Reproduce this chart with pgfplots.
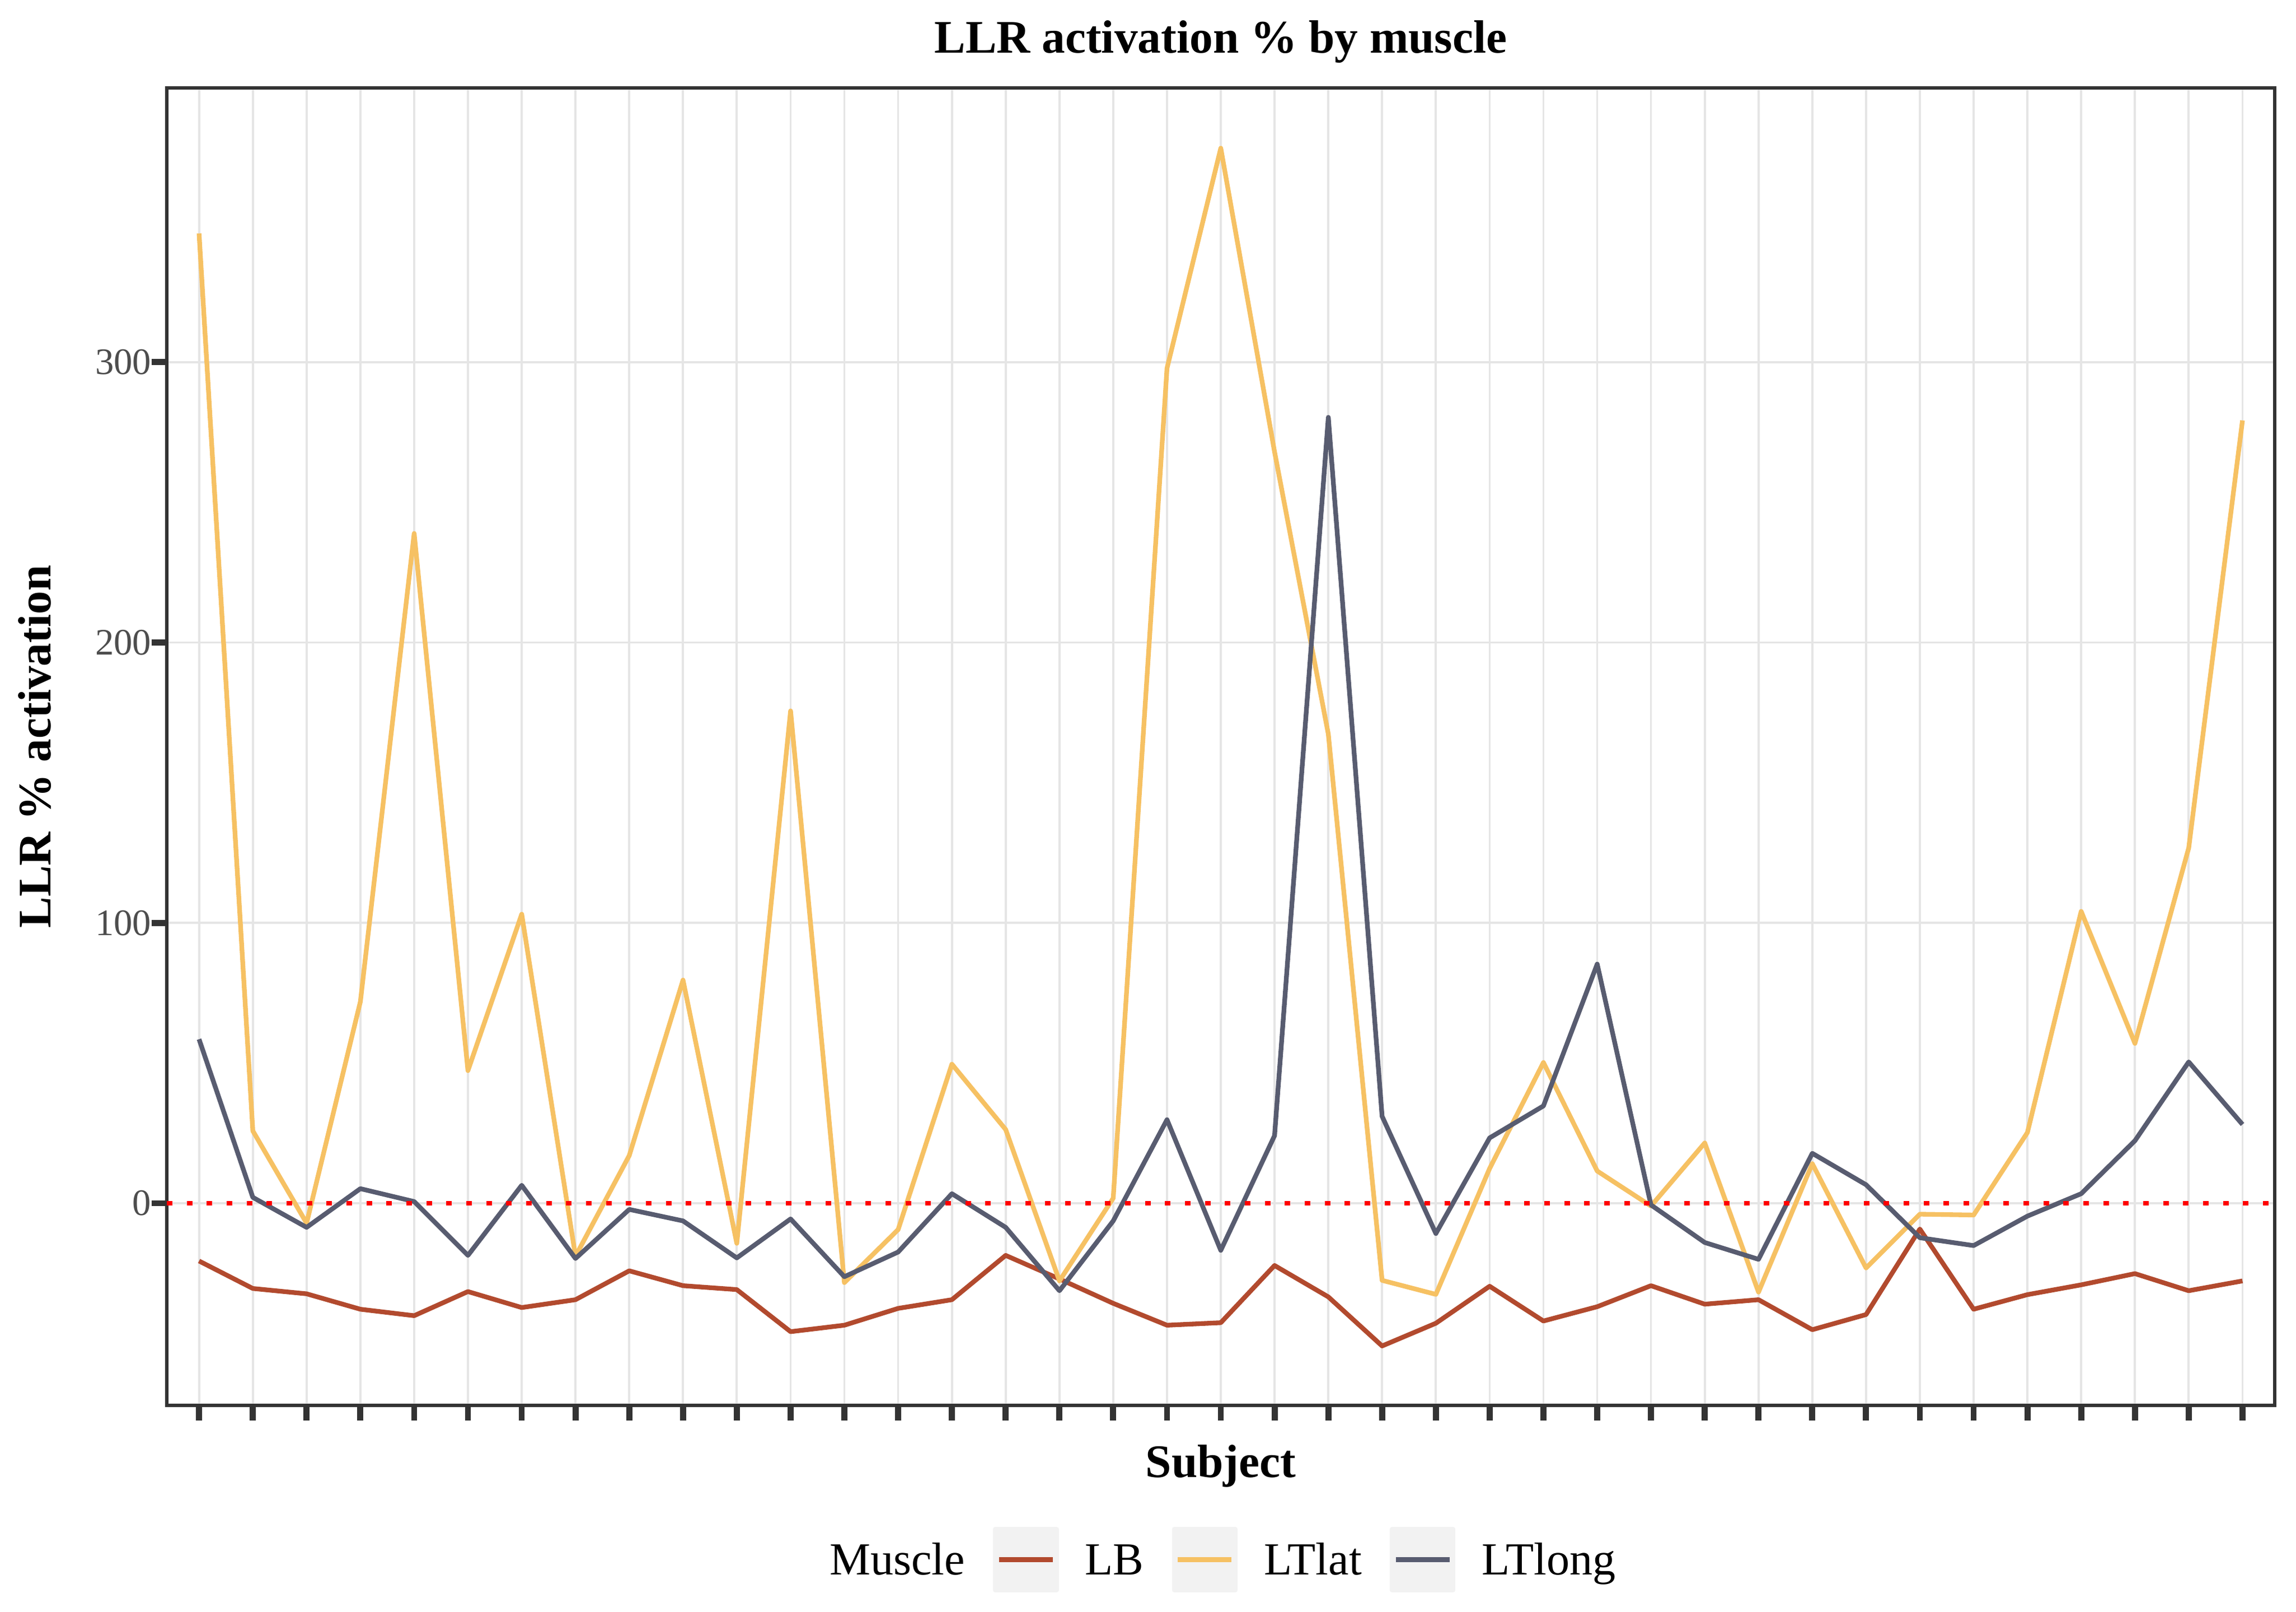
\documentclass[border=0pt]{standalone}
\usepackage{fontspec}
\setmainfont{Liberation Serif}
\usepackage{pgfplots}
\pgfplotsset{compat=1.18}
\usepackage{pgfplotstable}
\definecolor{cLB}{RGB}{178,74,46}
\definecolor{cLTlat}{RGB}{246,193,99}
\definecolor{cLTlong}{RGB}{88,92,112}
\definecolor{gridc}{RGB}{229,229,229}
\definecolor{axc}{RGB}{51,51,51}
\definecolor{tickc}{RGB}{77,77,77}
\definecolor{keybg}{RGB}{242,242,242}

\pgfplotstableread{
x LB LTlat LTlong
1 -20.6 345.9 58.5
2 -30.4 25.8 2.1
3 -32.3 -7.1 -8.6
4 -37.8 71.9 5.2
5 -40.1 238.9 0.6
6 -31.5 47.3 -18.6
7 -37.2 103.1 6.4
8 -34.4 -18.9 -19.7
9 -24.1 17.0 -2.2
10 -29.4 79.6 -6.3
11 -30.8 -14.3 -19.5
12 -45.8 175.6 -5.6
13 -43.5 -28.3 -26.2
14 -37.5 -9.4 -17.4
15 -34.4 49.6 3.4
16 -18.6 26.3 -8.6
17 -27.0 -27.7 -31.2
18 -35.7 1.8 -6.3
19 -43.5 297.8 29.8
20 -42.6 376.3 -16.8
21 -22.2 268.0 24.1
22 -33.4 167.3 280.3
23 -50.9 -27.5 31.0
24 -42.8 -32.5 -10.8
25 -29.6 12.4 23.3
26 -42.0 50.2 34.7
27 -36.9 11.5 85.3
28 -29.4 -1.0 -0.6
29 -36.0 21.5 -14.0
30 -34.4 -31.7 -20.0
31 -45.1 14.1 17.8
32 -39.7 -23.1 6.6
33 -9.2 -3.9 -12.3
34 -37.8 -4.2 -15.1
35 -32.6 25.2 -4.6
36 -29.1 104.1 3.4
37 -25.1 57.0 22.3
38 -31.2 126.7 50.4
39 -27.7 279.2 28.1
}\datatable

\begin{document}
\begin{tikzpicture}
\useasboundingbox (0,0) rectangle (984.48pt,690.72pt);
\begin{axis}[
  at={(71.52pt,88.32pt)}, anchor=south west,
  scale only axis, width=903.84pt, height=564.72pt,
  xmin=0.4, xmax=39.6, ymin=-72.1, ymax=397.8,
  xtick={1,...,39}, xticklabels={},
  ytick={0,100,200,300},
  tick pos=left, tick align=outside,
  major tick length=6.5pt,
  tick style={line width=2.6pt, color=axc},
  axis line style={line width=1.45pt, color=axc},
  grid=major, major grid style={line width=0.9pt, color=gridc},
  /pgf/number format/assume math mode=true,
  yticklabel style={font=\fontsize{16}{19}\selectfont, color=tickc, inner sep=0pt, anchor=east},
  title={LLR activation \% by muscle},
  title style={font=\bfseries\fontsize{20}{24}\selectfont, at={(axis description cs:0.5,1.02677)}, anchor=base, inner sep=0pt, yshift=-6pt},
  xlabel={Subject},
  xlabel style={font=\bfseries\fontsize{20}{24}\selectfont, at={(axis description cs:0.5,-0.0544)}, anchor=base, inner sep=0pt},
  ylabel={LLR \% activation},
  ylabel style={font=\bfseries\fontsize{20}{24}\selectfont, at={(axis description cs:-0.05501,0.5)}, anchor=base, inner sep=0pt},
  legend style={
    at={(axis description cs:0.3020,-0.1171)}, anchor=west,
    draw=none, fill=none, inner sep=0pt, outer sep=0pt,
    legend columns=-1,
    font=\fontsize{19.7}{24}\selectfont,
    nodes={inner sep=0pt, text height=13.0pt, text depth=0pt},
    cells={anchor=west},
    /tikz/every odd column/.append style={column sep=11.3pt},
    /tikz/every even column/.append style={column sep=12.0pt},
  },
  legend image code/.code={
    \fill[keybg] (0pt,-13.08pt) rectangle (26.2pt,13.08pt);
    \draw[#1, line cap=butt] (1.6pt,0pt) -- (24.6pt,0pt);
  },
]
\addlegendimage{empty legend}
\addlegendentry{Muscle}
\addplot[cLB, line width=2pt, line join=round, mark=none] table[x=x,y=LB]{\datatable};
\addlegendentry{LB}
\addplot[cLTlat, line width=2pt, line join=round, mark=none] table[x=x,y=LTlat]{\datatable};
\addlegendentry{LTlat}
\addplot[cLTlong, line width=2pt, line join=round, mark=none] table[x=x,y=LTlong]{\datatable};
\addlegendentry{LTlong}
\addplot[red, line width=1.7pt, dash pattern=on 2.4pt off 6.16pt, mark=none, forget plot] coordinates {(0.4,0) (39.6,0)};
\end{axis}
\end{tikzpicture}
\end{document}
